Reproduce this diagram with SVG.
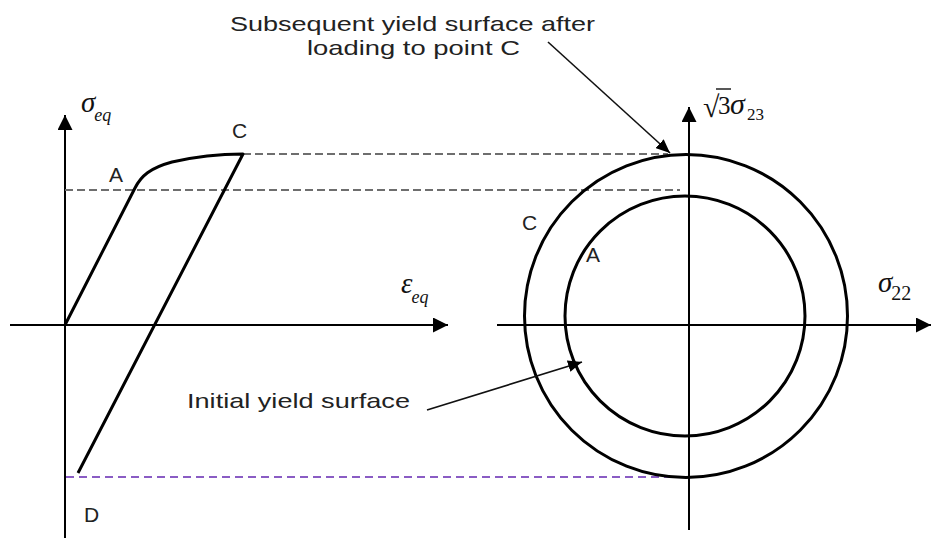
<svg xmlns="http://www.w3.org/2000/svg" width="931" height="539" viewBox="0 0 931 539">
<style>
.axis{stroke:#000;stroke-width:2;fill:none}
.curve{stroke:#000;stroke-width:3;fill:none;stroke-linejoin:round}
.dash{stroke:#6e6e6e;stroke-width:2;stroke-dasharray:8,4;fill:none}
.dashp{stroke:#8a5cc4;stroke-width:1.8;stroke-dasharray:8,5;fill:none}
.ptr{stroke:#111;stroke-width:1.6;fill:none}
.lbl{font-family:"Liberation Sans",Arial,sans-serif;font-size:21px;fill:#222}
.mi{font-family:"Liberation Serif","Times New Roman",serif;font-style:italic;fill:#111}
.mr{font-family:"Liberation Serif","Times New Roman",serif;font-style:normal;fill:#111}
</style>
<defs>
<marker id="ah" markerUnits="userSpaceOnUse" markerWidth="15" markerHeight="15" refX="15" refY="7.5" orient="auto">
<path d="M0,0 L15,7.5 L0,15 z" fill="#000"/>
</marker>
<marker id="ph" markerUnits="userSpaceOnUse" markerWidth="14" markerHeight="12" refX="14" refY="6" orient="auto">
<path d="M0,0 L14,6 L0,12 z" fill="#000"/>
</marker>
</defs>
<rect width="931" height="539" fill="#fff"/>

<g id="left-axes">
<line class="axis" x1="10" y1="325" x2="448" y2="325" marker-end="url(#ah)"/>
<line class="axis" x1="65" y1="538" x2="65" y2="115" marker-end="url(#ah)"/>
</g>

<g id="right-axes">
<line class="axis" x1="497" y1="325" x2="931" y2="325" marker-end="url(#ah)"/>
<line class="axis" x1="689" y1="530" x2="689" y2="107" marker-end="url(#ah)"/>
</g>

<g id="guides">
<line class="dash" x1="243" y1="154" x2="668" y2="154"/>
<line class="dash" x1="65" y1="190" x2="680" y2="190"/>
<line class="dashp" x1="66" y1="477" x2="687" y2="477"/>
</g>

<g id="stress-strain-curve">
<path class="curve" d="M65,325 L135,188 C141,176 150,168 172,162 C198,156 222,154 243,154 L78,473"/>
</g>

<g id="outer-yield-surface">
<circle cx="686" cy="316" r="161.5" fill="none" stroke="#000" stroke-width="3"/>
</g>
<g id="initial-yield-surface">
<circle cx="685" cy="316" r="120" fill="none" stroke="#000" stroke-width="3"/>
</g>

<g id="connectors">
<line class="ptr" x1="548" y1="42" x2="670" y2="153" marker-end="url(#ph)"/>
<line class="ptr" x1="427" y1="410" x2="582" y2="362" marker-end="url(#ph)"/>
</g>

<g id="labels">
<text class="lbl" x="230" y="31" textLength="365" lengthAdjust="spacingAndGlyphs">Subsequent yield surface after</text>
<text class="lbl" x="307" y="55" textLength="213" lengthAdjust="spacingAndGlyphs">loading to point C</text>
<text class="lbl" x="187" y="408" textLength="223" lengthAdjust="spacingAndGlyphs">Initial yield surface</text>
<text class="lbl" x="109" y="182" font-size="22">A</text>
<text class="lbl" x="232" y="138" font-size="22">C</text>
<text class="lbl" x="84" y="522" font-size="22">D</text>
<text class="lbl" x="522" y="230" font-size="22">C</text>
<text class="lbl" x="586" y="262" font-size="22">A</text>
</g>

<g id="math-labels">
<text class="mi" x="81" y="112" font-size="29">σ<tspan font-size="18" dy="9" dx="-1">eq</tspan></text>
<text class="mi" x="401" y="293" font-size="29">ε<tspan font-size="18" dy="10" dx="-1">eq</tspan></text>
<text class="mr" x="703" y="117" font-size="30">√</text>
<line x1="716" y1="89" x2="731" y2="89" stroke="#111" stroke-width="1.4"/>
<text class="mr" x="718" y="114" font-size="25">3</text>
<text class="mi" x="730" y="114" font-size="30">σ</text>
<text class="mr" x="747" y="120" font-size="17">23</text>
<text class="mi" x="878" y="292" font-size="29">σ<tspan class="mr" font-size="20" dy="8" dx="-1">22</tspan></text>
</g>
</svg>
